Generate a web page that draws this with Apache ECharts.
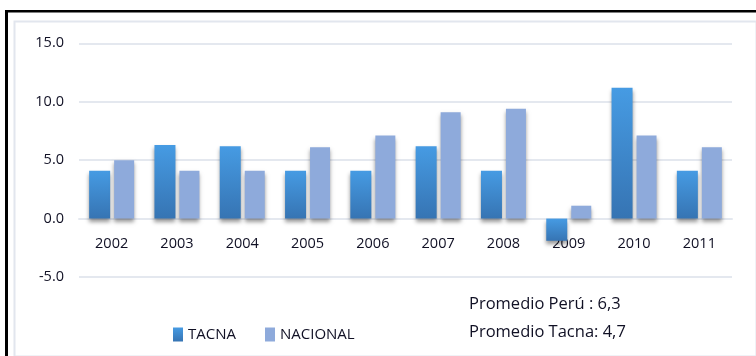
<!DOCTYPE html>
<html>
<head>
<meta charset="utf-8">
<script src="https://cdn.jsdelivr.net/npm/echarts@6/dist/echarts.min.js"></script>
<style>
  html, body { margin: 0; padding: 0; background: #fff; }
  #chart { width: 756px; height: 356px; }
</style>
</head>
<body>
<div id="chart"></div>
<script>
// Annual growth (%) — Tacna vs. national
const years = ['2002', '2003', '2004', '2005', '2006', '2007', '2008', '2009', '2010', '2011'];
const tacna = [4.1, 6.3, 6.2, 4.1, 4.1, 6.2, 4.1, -1.9, 11.2, 4.1];
const nacional = [5.0, 4.1, 4.1, 6.1, 7.1, 9.1, 9.4, 1.1, 7.1, 6.1];
const yTicks = { min: -5, max: 15, step: 5 };
const notes = ['Promedio Perú : 6,3', 'Promedio Tacna: 4,7'];

const FONT = '"Open Sans", "Noto Sans", sans-serif';
const TEXT = '#101024';
const GRID_LINE = '#e4e8ef';

const chart = echarts.init(document.getElementById('chart'), null, { renderer: 'canvas' });

const barShadow = {
  shadowColor: 'rgba(0,0,0,0.4)',
  shadowBlur: 4,
  shadowOffsetY: 3
};

chart.setOption({
  animation: false,
  backgroundColor: '#fff',
  grid: { left: 79, right: 24, top: 43.3, bottom: 79, containLabel: false },
  legend: {
    left: 173,
    top: 327,
    padding: 0,
    itemWidth: 10,
    itemHeight: 14,
    itemGap: 29,
    icon: 'rect',
    textStyle: { fontFamily: FONT, fontSize: 15, color: TEXT },
    data: ['TACNA', 'NACIONAL']
  },
  xAxis: {
    type: 'category',
    data: years,
    axisLine: { onZero: true, lineStyle: { color: GRID_LINE, width: 2 } },
    axisTick: { show: false },
    // year labels sit just under the zero line
    axisLabel: { fontFamily: FONT, fontSize: 14.5, color: TEXT, margin: -41 }
  },
  yAxis: {
    type: 'value',
    min: yTicks.min,
    max: yTicks.max,
    interval: yTicks.step,
    axisLine: { show: false },
    axisTick: { show: false },
    splitLine: { lineStyle: { color: GRID_LINE, width: 2 } },
    axisLabel: {
      fontFamily: FONT, fontSize: 14.5, color: TEXT, margin: 15,
      formatter: v => v.toFixed(1)
    }
  },
  series: [
    {
      name: 'TACNA',
      type: 'bar',
      data: tacna,
      barWidth: 21,
      barGap: '19%',
      itemStyle: Object.assign({
        color: new echarts.graphic.LinearGradient(0, 0, 0, 1, [
          { offset: 0, color: '#469be3' },
          { offset: 1, color: '#3674b3' }
        ])
      }, barShadow)
    },
    {
      name: 'NACIONAL',
      type: 'bar',
      data: nacional,
      barWidth: 20,
      itemStyle: Object.assign({ color: '#8eaadb' }, barShadow)
    }
  ],
  graphic: [
    // outer frame (left and top dark rule)
    { type: 'rect', left: 5, top: 10, shape: { width: 3, height: 346 }, style: { fill: '#000' }, z: 10 },
    { type: 'rect', left: 5, top: 10, shape: { width: 751, height: 2.5 }, style: { fill: '#000' }, z: 10 },
    // inner panel outline
    { type: 'rect', left: 12, top: 19, shape: { x: 0, y: 0, width: 742, height: 335 },
      style: { fill: null, stroke: '#e2e6ee', lineWidth: 2 }, z: 0, silent: true },
    // averages
    { type: 'text', left: 469, top: 296,
      style: { text: notes[0], font: '16.5px ' + FONT, fill: TEXT } },
    { type: 'text', left: 469, top: 324,
      style: { text: notes[1], font: '16.5px ' + FONT, fill: TEXT } }
  ]
});
</script>
</body>
</html>
